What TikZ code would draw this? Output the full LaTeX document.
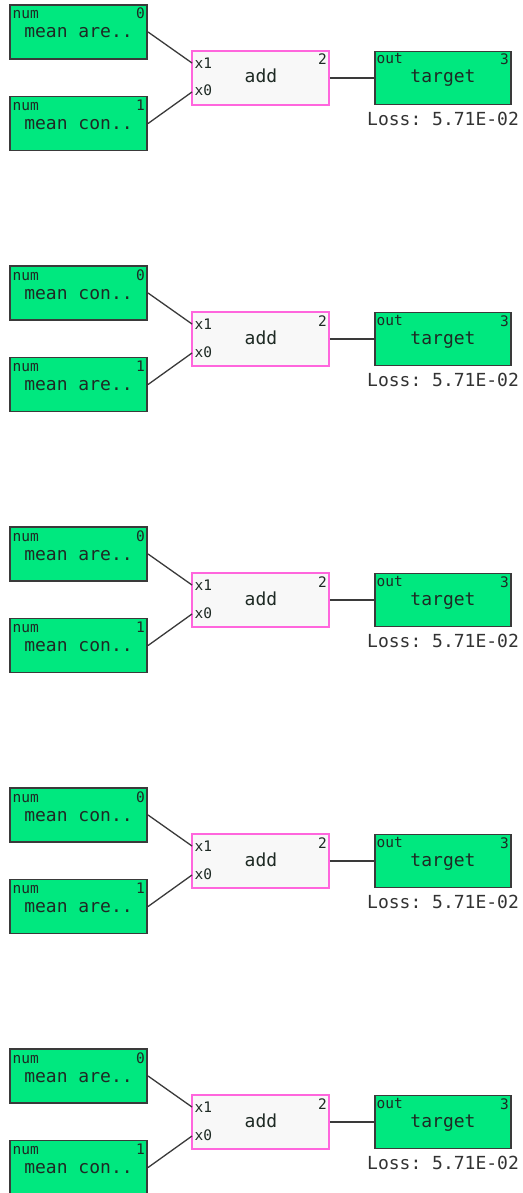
\documentclass[tikz,border=0pt]{standalone}
\usepackage{fontspec}
\setmonofont{DejaVu Sans Mono}
\definecolor{nodegreen}{HTML}{00E87F}
\definecolor{nodeedge}{HTML}{3A3A3A}
\definecolor{addedge}{HTML}{FF66DD}
\definecolor{addfill}{HTML}{F8F8F8}
\definecolor{txt}{HTML}{1E2A24}
\definecolor{losstxt}{HTML}{333333}
\tikzset{
  numbox/.style={draw=nodeedge, fill=nodegreen, line width=1.6pt, minimum width=137pt, minimum height=54pt, inner sep=0pt},
  addbox/.style={draw=addedge, fill=addfill, line width=1.5pt, minimum width=137pt, minimum height=54pt, inner sep=0pt},
  bigtxt/.style={font=\ttfamily\fontsize{18}{19}\selectfont, text=txt, inner sep=0pt, anchor=base},
  smalltxt/.style={font=\ttfamily\fontsize{14.5}{15}\selectfont, text=txt, inner sep=0pt},
  losstext/.style={font=\ttfamily\fontsize{18}{19}\selectfont, text=losstxt, inner sep=0pt, anchor=base west},
  link/.style={draw=nodeedge, line width=1.3pt},
}
\begin{document}
\begin{tikzpicture}[x=1pt,y=-1pt]
\fill[white] (0,0) rectangle (522,1193);
\useasboundingbox (0,0) rectangle (522,1193);
\foreach \k/\la/\lb in {0/are/con,1/con/are,2/are/con,3/con/are,4/are/con}{
\begin{scope}[shift={(0,\k*261)}]
  % input box 0
  \node[numbox] (na-\k) at (78.75,32) {};
  \node[smalltxt, anchor=base west] (naT-\k) at (12.5,19) {num};
  \node[smalltxt, anchor=base east] (naN-\k) at (145,19) {0};
  \node[bigtxt] (naL-\k) at (78.5,38) {mean \la..};
  % input box 1
  \node[numbox] (nb-\k) at (78.75,123.5) {};
  \node[smalltxt, anchor=base west] (nbT-\k) at (12.5,110.5) {num};
  \node[smalltxt, anchor=base east] (nbN-\k) at (145,110.5) {1};
  \node[bigtxt] (nbL-\k) at (78.5,129.5) {mean \lb..};
  % add box
  \node[addbox] (ad-\k) at (260.5,78) {};
  \node[smalltxt, anchor=base west] (adX1-\k) at (194.5,68.5) {x1};
  \node[smalltxt, anchor=base west] (adX0-\k) at (194.5,96) {x0};
  \node[smalltxt, anchor=base east] (adN-\k) at (327,65) {2};
  \node[bigtxt] (adL-\k) at (261,83) {add};
  \coordinate (p1-\k) at (192,63);
  \coordinate (p0-\k) at (192,92);
  % target box
  \node[numbox, minimum width=136pt, minimum height=53pt] (tg-\k) at (443,78) {};
  \node[smalltxt, anchor=base west] (tgT-\k) at (376.5,64) {out};
  \node[smalltxt, anchor=base east] (tgN-\k) at (509,65) {3};
  \node[bigtxt] (tgL-\k) at (443,83) {target};
  \node[losstext] (loss-\k) at (367,125.5) {Loss: 5.71E-02};
  % links
  \draw[link] (na-\k.east) -- (p1-\k);
  \draw[link] (nb-\k.east) -- (p0-\k);
  \draw[link] (ad-\k.east) -- (tg-\k.west);
\end{scope}
}
\end{tikzpicture}
\end{document}
